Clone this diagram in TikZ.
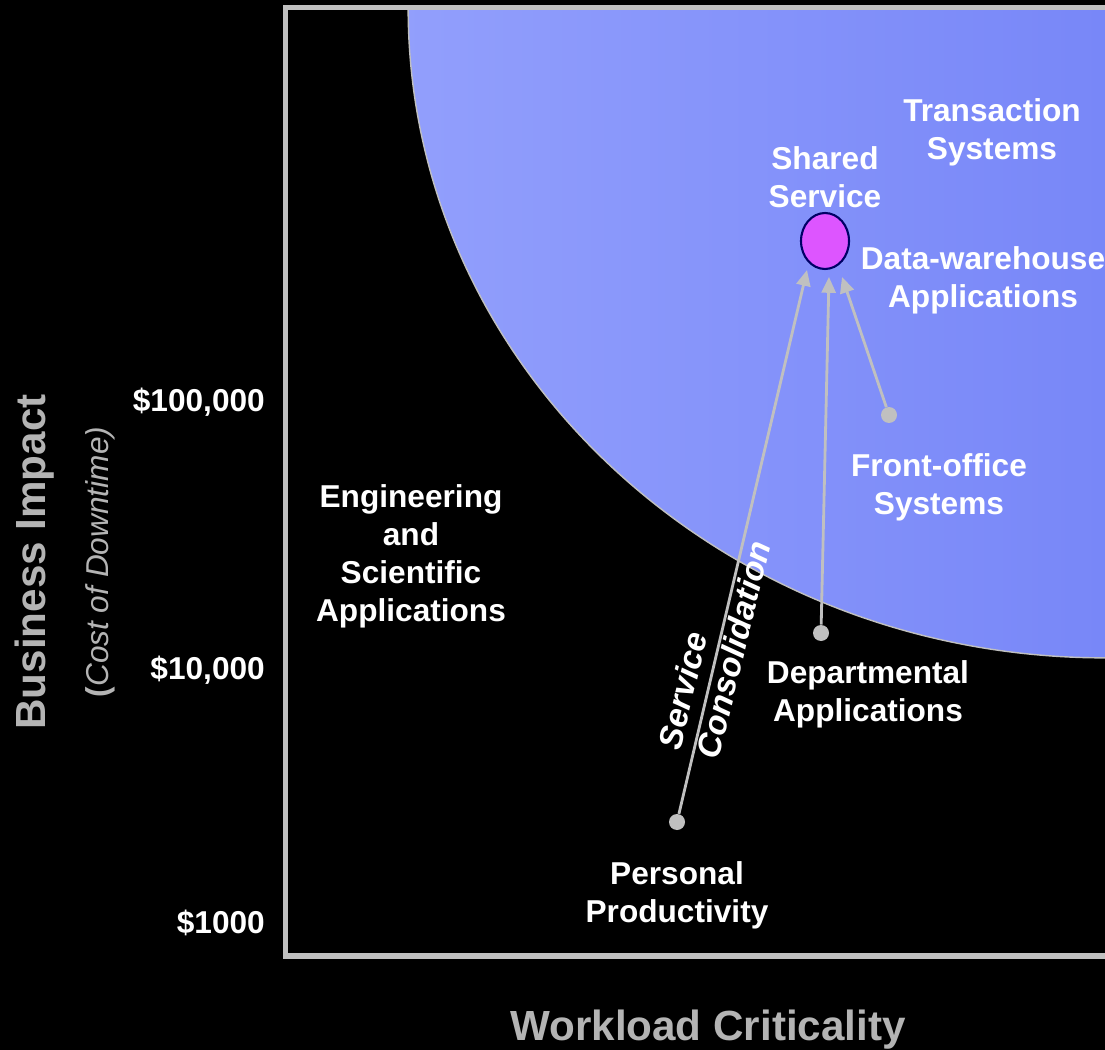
\documentclass[tikz,border=0pt]{standalone}
\usepackage{fontspec}
\setmainfont{Liberation Sans}
\usepackage{tikz}
\usetikzlibrary{shapes, arrows.meta, positioning}
\definecolor{linegray}{HTML}{C0C0C0}
\definecolor{axisgray}{HTML}{B4B4B4}
\definecolor{zoneleft}{RGB}{146,159,252}
\definecolor{zoneright}{RGB}{120,135,248}
\definecolor{hubfill}{HTML}{DD55FF}
\definecolor{hubdraw}{HTML}{000066}
\tikzstyle{lbl} = [text=white, font=\fontsize{18}{21.6}\selectfont\bfseries, align=center]
\tikzstyle{ticklbl} = [text=white, font=\fontsize{18}{21.6}\selectfont\bfseries, anchor=east]
\tikzstyle{axislbl} = [text=axisgray, font=\fontsize{24}{28}\selectfont\bfseries]
\tikzstyle{tail} = [circle, fill=linegray, minimum size=0.32cm, inner sep=0pt]
\tikzstyle{hub} = [ellipse, draw=hubdraw, line width=1.2pt, fill=hubfill, minimum width=0.96cm, minimum height=1.12cm, inner sep=0pt]
\tikzstyle{arrow} = [line width=1.6pt, draw=linegray, -{Triangle[length=9pt,width=8pt]}]
\tikzstyle{plotframe} = [draw=linegray, line width=3.1pt]

\begin{document}
\begin{tikzpicture}[x=0.02cm, y=-0.02cm, node distance=1.4cm]
\useasboundingbox (0,0) rectangle (1105,1050);
\clip (0,0) rectangle (1105,1050);
\fill[black] (0,0) rectangle (1105,1050);

% critical zone
\begin{scope}
\clip (285,8) rectangle (1105,956);
\begin{scope}
\clip (1105,8) ellipse [x radius=13.94cm, y radius=13cm];
\shade[left color=zoneleft, right color=zoneright] (400,8) rectangle (1105,660);
\end{scope}
\draw[linegray, line width=0.8pt] (1105,8) ellipse [x radius=13.94cm, y radius=13cm];
\end{scope}
\draw[plotframe] (285.5,7.3) rectangle (1200,956);

\node (hub) [hub] at (825,241) {};
\node (pdot) [tail] at (677,822) {};
\node (ddot) [tail] at (821,633) {};
\node (fdot) [tail] at (889,415) {};
\coordinate (ptip) at (807,270);
\coordinate (dtip) at (829,277);
\coordinate (ftip) at (842,277);

\draw [arrow] (pdot) -- (ptip);
\draw [arrow] (ddot) -- (dtip);
\draw [arrow] (fdot) -- (ftip);

\node (shared) [lbl, above of=hub, node distance=1.28cm] {Shared\\Service};
\node (trans) [lbl] at (992,132) {Transaction\\Systems};
\node (dw) [lbl] at (983,280) {Data-warehouse\\Applications};
\node (front) [lbl, below of=fdot, node distance=1.44cm, xshift=1cm] {Front-office\\Systems};
\node (dept) [lbl, below of=ddot, node distance=1.22cm, xshift=0.94cm] {Departmental\\Applications};
\node (pers) [lbl, below of=pdot, node distance=1.46cm] {Personal\\Productivity};
\node (eng) [lbl] at (411,556) {Engineering\\and\\Scientific\\Applications};
\node (consol) [lbl, rotate=76.4, align=left, font=\fontsize{19}{22.6}\selectfont\bfseries\itshape] at (714,645) {Service\\Consolidation};

\node (t100k) [ticklbl] at (271,402) {\$100,000};
\node (t10k) [ticklbl] at (271,670) {\$10,000};
\node (t1k) [ticklbl] at (271,923) {\$1000};

\node (impact) [axislbl, rotate=90] at (35,562) {Business Impact};
\node (cost) [rotate=90, text=axisgray, font=\fontsize{18}{21.6}\selectfont] at (100,562) {\textbf{(}\textit{Cost of Downtime)}};
\node (crit) [axislbl] at (708,1030) {Workload Criticality};
\end{tikzpicture}
\end{document}
